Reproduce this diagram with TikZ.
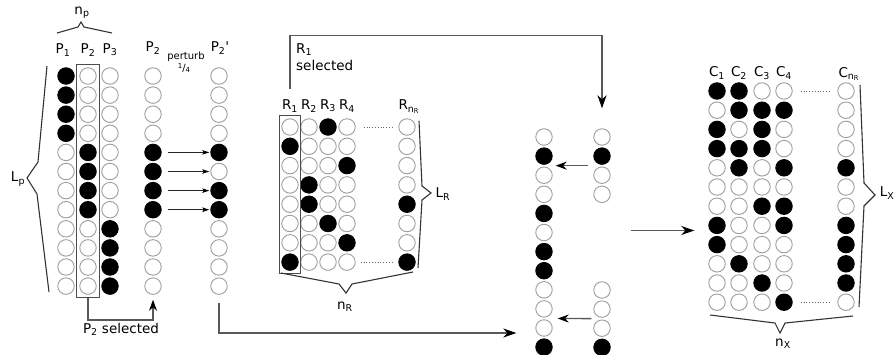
\documentclass[tikz,border=0pt]{standalone}
\usepackage{fontspec}
\setmainfont{DejaVu Sans}
\usetikzlibrary{arrows.meta,fit,calc}

\newcommand\cellcol[5]{%
  \foreach \v [count=\i] in {#5} {%
    \ifnum\v=1
      \node[fullcell] (#1-\i) at ({#2},{#3+(\i-1)*#4}) {};
    \else
      \node[cell] (#1-\i) at ({#2},{#3+(\i-1)*#4}) {};
    \fi
  }}

\tikzset{
  cell/.style={circle, draw=black!38, line width=0.9pt, fill=white, minimum size=16.5pt, inner sep=0pt},
  fullcell/.style={cell, draw=black, fill=black},
  selbox/.style={rectangle, draw=black!70, line width=1.2pt, inner xsep=3pt, inner ysep=2.5pt},
  conn/.style={draw=black!65, line width=1.3pt},
  bigarrow/.style={-{Stealth[length=13pt,width=9pt,inset=4pt,color=black]}},
  midarrow/.style={-{Stealth[length=11pt,width=8pt,inset=3.5pt,color=black]}},
  parr/.style={draw=black!85, line width=1pt, -{Stealth[length=7pt,width=4.5pt,inset=1.5pt,color=black]}},
  brace/.style={draw=black!80, line width=1.1pt, line join=miter},
  lbl/.style={font=\fontsize{13.5}{17}\selectfont, inner sep=0pt},
  smalltxt/.style={font=\fontsize{10}{12}\selectfont, inner sep=0pt},
  dotl/.style={draw=black!60, dotted, line width=0.8pt}
}

\begin{document}
\begin{tikzpicture}[x=1pt,y=-1pt]
\useasboundingbox (0,0) rectangle (896,354);

% ---- P matrix ----
\cellcol{pa}{66}{76}{19.1}{1,1,1,1,0,0,0,0,0,0,0,0}
\cellcol{pb}{88}{76}{19.1}{0,0,0,0,1,1,1,1,0,0,0,0}
\cellcol{pc}{110}{76}{19.1}{0,0,0,0,0,0,0,0,1,1,1,1}
\cellcol{q}{153}{76}{19.1}{0,0,0,0,1,1,1,1,0,0,0,0}
\cellcol{r}{219}{76}{19.1}{0,0,0,0,1,0,1,1,0,0,0,0}
\node[selbox, fit=(pb-1)(pb-12)] (p2box) {};

\node[lbl] (lP1) at (63,50) {P\textsubscript{1}};
\node[lbl] (lP2) at (88,50) {P\textsubscript{2}};
\node[lbl] (lP3) at (110,50) {P\textsubscript{3}};
\node[lbl] (lq) at (153,48) {P\textsubscript{2}};
\node[lbl] (lr) at (220,48) {P\textsubscript{2}\textquotesingle};
\node[smalltxt] (pert) at (186,57) {perturb};
\node[smalltxt] (quart) at (184,68) {\raisebox{2.5pt}{\fontsize{7}{7}\selectfont 1}/\raisebox{-1.5pt}{\fontsize{7}{7}\selectfont 4}};
\node[lbl] (np) at (82,13) {n\textsubscript{p}};
\node[lbl] (Lp) at (18,179) {L\textsubscript{p}};
\node[lbl] (psel) at (121,329) {P\textsubscript{2} selected};

\draw[brace] (57,33) -- (78,27) -- (81,22) -- (84,27) -- (112,33);
\draw[brace] (47,66) -- (38,162) -- (27,178) -- (37,194) -- (49,292);

\foreach \i in {5,...,8}
  \draw[parr, shorten <=6pt, shorten >=1pt] (q-\i.east) -- (r-\i.west);

\draw[conn, midarrow, shorten >=5pt] (p2box.south) -- ++(0,22) -| (q-12.south);

% ---- R matrix ----
\cellcol{ra}{290}{127}{19.3}{0,1,0,0,0,0,0,1}
\cellcol{rb}{309}{127}{19.3}{0,0,0,1,1,0,0,0}
\cellcol{rc}{328}{127}{19.3}{1,0,0,0,0,1,0,0}
\cellcol{rd}{347}{127}{19.3}{0,0,1,0,0,0,1,0}
\cellcol{rn}{407}{127}{19.3}{0,0,0,0,1,0,0,1}
\node[selbox, inner xsep=2pt, fit=(ra-1)(ra-8)] (rbox) {};
\draw[dotl] ([xshift=8pt]rd-1.east) -- ([xshift=-6pt]rn-1.west);
\draw[dotl] ([xshift=5pt]rd-8.east) -- ([xshift=-6pt]rn-8.west);

\node[lbl] (lR1) at (290,106) {R\textsubscript{1}};
\node[lbl] (lR2) at (309,106) {R\textsubscript{2}};
\node[lbl] (lR3) at (328,106) {R\textsubscript{3}};
\node[lbl] (lR4) at (347,106) {R\textsubscript{4}};
\node[lbl] (lRn) at (409,107) {R\textsubscript{n\textsubscript{R}}};
\node[lbl] (LR) at (443,194) {L\textsubscript{R}};
\node[lbl] (nR) at (345,307) {n\textsubscript{R}};
\node[lbl, align=left, anchor=north west] (rsel) at (296,43) {R\textsubscript{1}\\selected};

\draw[brace] (419,121) -- (422,186) -- (431,193) -- (422,200) -- (418,268);
\draw[brace] (281,273) -- (339,284) -- (346,293) -- (352,284) -- (413,272);

% ---- merged column ----
\cellcol{m}{544}{137}{19.1}{0,1,0,0,1,0,1,1,0,0,0,1}
\cellcol{s}{602}{137}{19.1}{0,1,0,0}
\cellcol{t}{602}{290}{19.1}{0,0,0,1}

\draw[conn, bigarrow, shorten <=26pt, shorten >=20pt] (rbox.north) -- ++(0,-80) -| (s-1.north);
\draw[conn, bigarrow, shorten <=8pt, shorten >=19pt] (r-12.south) |- ([yshift=-5pt]m-11.west);
\draw[conn, midarrow, shorten <=5pt, shorten >=3pt] ($(s-2.west)!0.5!(s-3.west)$) -- ($(m-2.east)!0.5!(m-3.east)$);
\draw[conn, midarrow, shorten <=2pt, shorten >=5pt] ($(t-2.west)!0.5!(t-3.west)$) -- ($(m-10.east)!0.5!(m-11.east)$);

% ---- C matrix ----
\cellcol{ca}{717}{91}{19.2}{1,0,1,1,0,0,0,1,1,0,0,0}
\cellcol{cb}{739}{91}{19.2}{1,1,0,1,1,0,0,0,0,1,0,0}
\cellcol{cc}{762}{91}{19.2}{0,1,1,1,0,0,1,0,0,0,1,0}
\cellcol{cd}{784}{91}{19.2}{0,1,0,0,1,0,1,1,0,0,0,1}
\cellcol{cn}{846}{91}{19.2}{0,0,0,0,1,0,0,1,1,1,1,0}
\draw[dotl] ([xshift=8pt]cd-1.east) -- ([xshift=-8pt]cn-1.west);
\draw[dotl] ([xshift=8pt]cd-12.east) -- ([xshift=-8pt]cn-12.west);

\node[lbl] (lC1) at (717,73) {C\textsubscript{1}};
\node[lbl] (lC2) at (739,73) {C\textsubscript{2}};
\node[lbl] (lC3) at (762,73) {C\textsubscript{3}};
\node[lbl] (lC4) at (784,73) {C\textsubscript{4}};
\node[lbl] (lCn) at (849,74) {C\textsubscript{n\textsubscript{R}}};
\node[lbl] (LX) at (887,193) {L\textsubscript{X}};
\node[lbl] (nX) at (783,344) {n\textsubscript{X}};

\draw[brace] (860,85) -- (864,183) -- (875,195) -- (864,206) -- (859,307);
\draw[brace] (710,315) -- (775,323) -- (780,333) -- (785,323) -- (853,316);

\coordinate (mstart) at ($(m-6.east)+(78,-2)$);
\draw[conn, bigarrow, shorten >=14pt] (mstart) -- (mstart -| ca-1.west);
\end{tikzpicture}
\end{document}
